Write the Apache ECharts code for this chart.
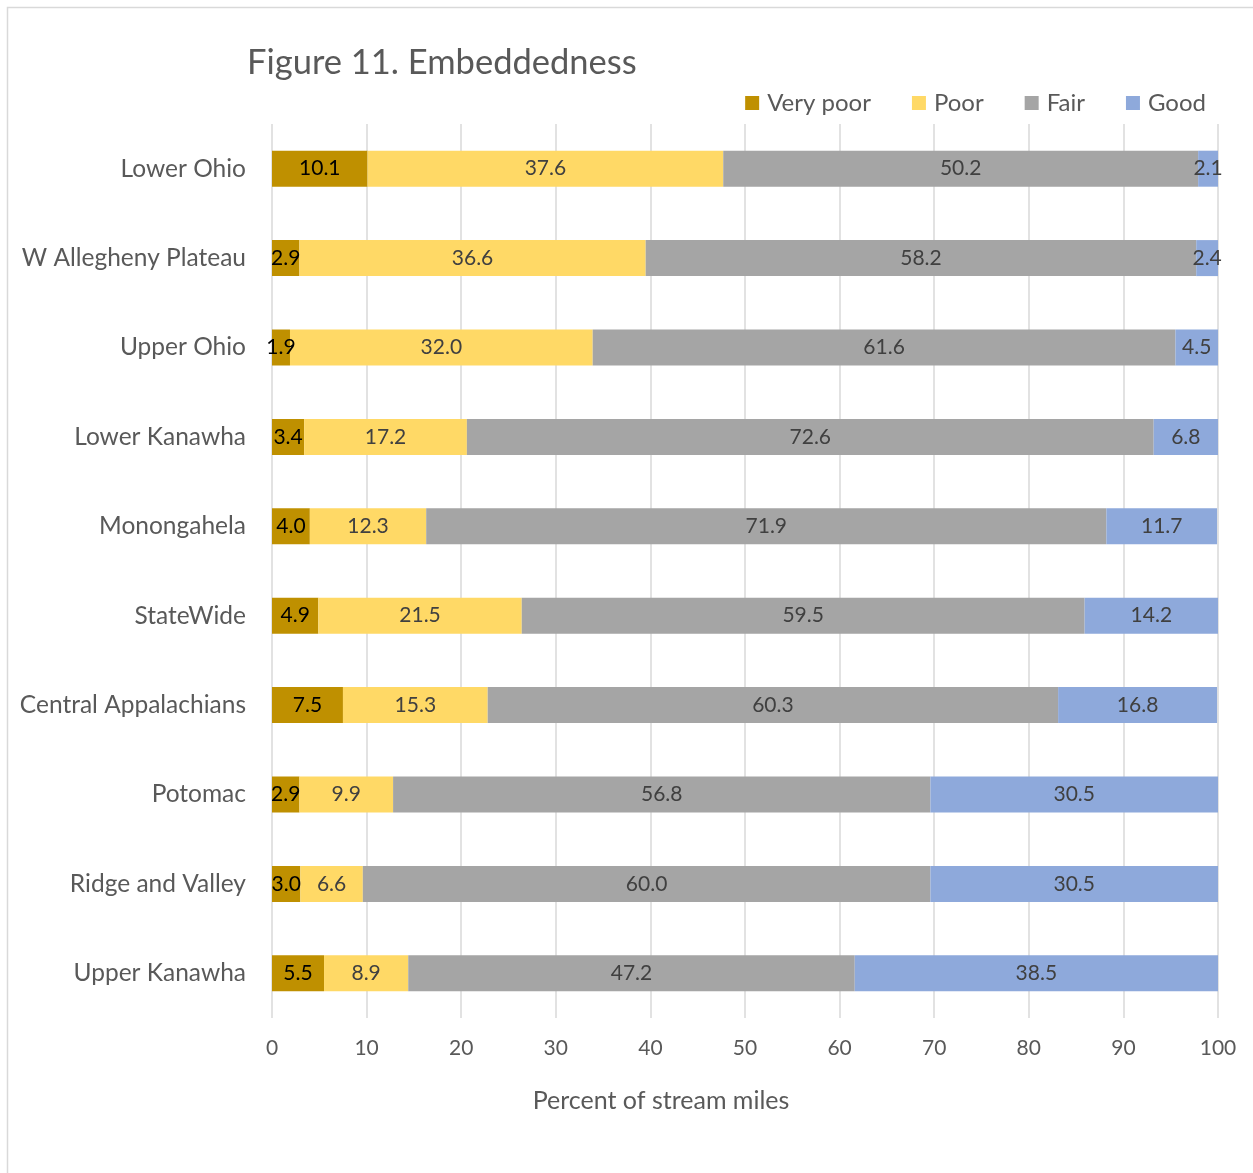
<!DOCTYPE html>
<html>
<head>
<meta charset="utf-8">
<script src="https://cdn.jsdelivr.net/npm/echarts@6/dist/echarts.min.js"></script>
<style>html,body{margin:0;padding:0;background:#fff}#c{width:1253px;height:1173px}</style>
</head>
<body>
<div id="c"></div>
<script>
const categories = ["Lower Ohio","W Allegheny Plateau","Upper Ohio","Lower Kanawha","Monongahela","StateWide","Central Appalachians","Potomac","Ridge and Valley","Upper Kanawha"];
const veryPoor = [10.1, 2.9, 1.9, 3.4, 4.0, 4.9, 7.5, 2.9, 3.0, 5.5];
const poor     = [37.6, 36.6, 32.0, 17.2, 12.3, 21.5, 15.3, 9.9, 6.6, 8.9];
const fair     = [50.2, 58.2, 61.6, 72.6, 71.9, 59.5, 60.3, 56.8, 60.0, 47.2];
const good     = [2.1, 2.4, 4.5, 6.8, 11.7, 14.2, 16.8, 30.5, 30.5, 38.5];
const xTicks = [0,10,20,30,40,50,60,70,80,90,100];

const FONT = 'Lato';
const chart = echarts.init(document.getElementById('c'), null, {renderer:'canvas'});
function mk(name, data, color, labelColor){
  return {
    name, type:'bar', stack:'total', data, barWidth:36,
    itemStyle:{color},
    label:{show:true, position:'inside', color:labelColor, fontFamily:FONT, fontSize:21,
      formatter: p => p.value.toFixed(1)},
    emphasis:{disabled:true}
  };
}
chart.setOption({
  animation:false,
  textStyle:{fontFamily:FONT},
  graphic:[
    {type:'rect', shape:{x:7.5,y:7.5,width:1300,height:1300}, style:{fill:null, stroke:'#d9d9d9', lineWidth:1.5}, silent:true, z:-10},
    {type:'text', x:661, y:1101, style:{text:'Percent of stream miles', font:'25px Lato', fill:'#595959', align:'center', verticalAlign:'middle'}, silent:true}
  ],
  title:{text:'Figure 11. Embeddedness', left:242, top:40, textStyle:{fontFamily:FONT, fontSize:34.5, fontWeight:'normal', color:'#595959'}},
  legend:{right:42, top:86, itemWidth:14, itemHeight:14, itemGap:41, icon:'rect',
    textStyle:{fontFamily:FONT, fontSize:24, color:'#595959', padding:[0,0,0,3]},
    data:['Very poor','Poor','Fair','Good']},
  grid:{left:272, right:35, top:124, bottom:155, containLabel:false},
  xAxis:{type:'value', min:0, max:100, interval:10,
    axisLine:{show:false}, axisTick:{show:false},
    axisLabel:{fontFamily:FONT, fontSize:21, color:'#595959', margin:20, formatter: v => xTicks.includes(v) ? String(v) : ''},
    splitLine:{show:true, lineStyle:{color:'#d9d9d9', width:1.5}}},
  yAxis:{type:'category', data:categories, inverse:true,
    axisLine:{show:false}, axisTick:{show:false},
    axisLabel:{fontFamily:FONT, fontSize:24.5, color:'#595959', margin:26}},
  series:[
    mk('Very poor', veryPoor, '#BF9000', '#000000'),
    mk('Poor', poor, '#FFD966', '#404040'),
    mk('Fair', fair, '#A5A5A5', '#404040'),
    mk('Good', good, '#8EA9DB', '#404040')
  ]
});
</script>
</body>
</html>
